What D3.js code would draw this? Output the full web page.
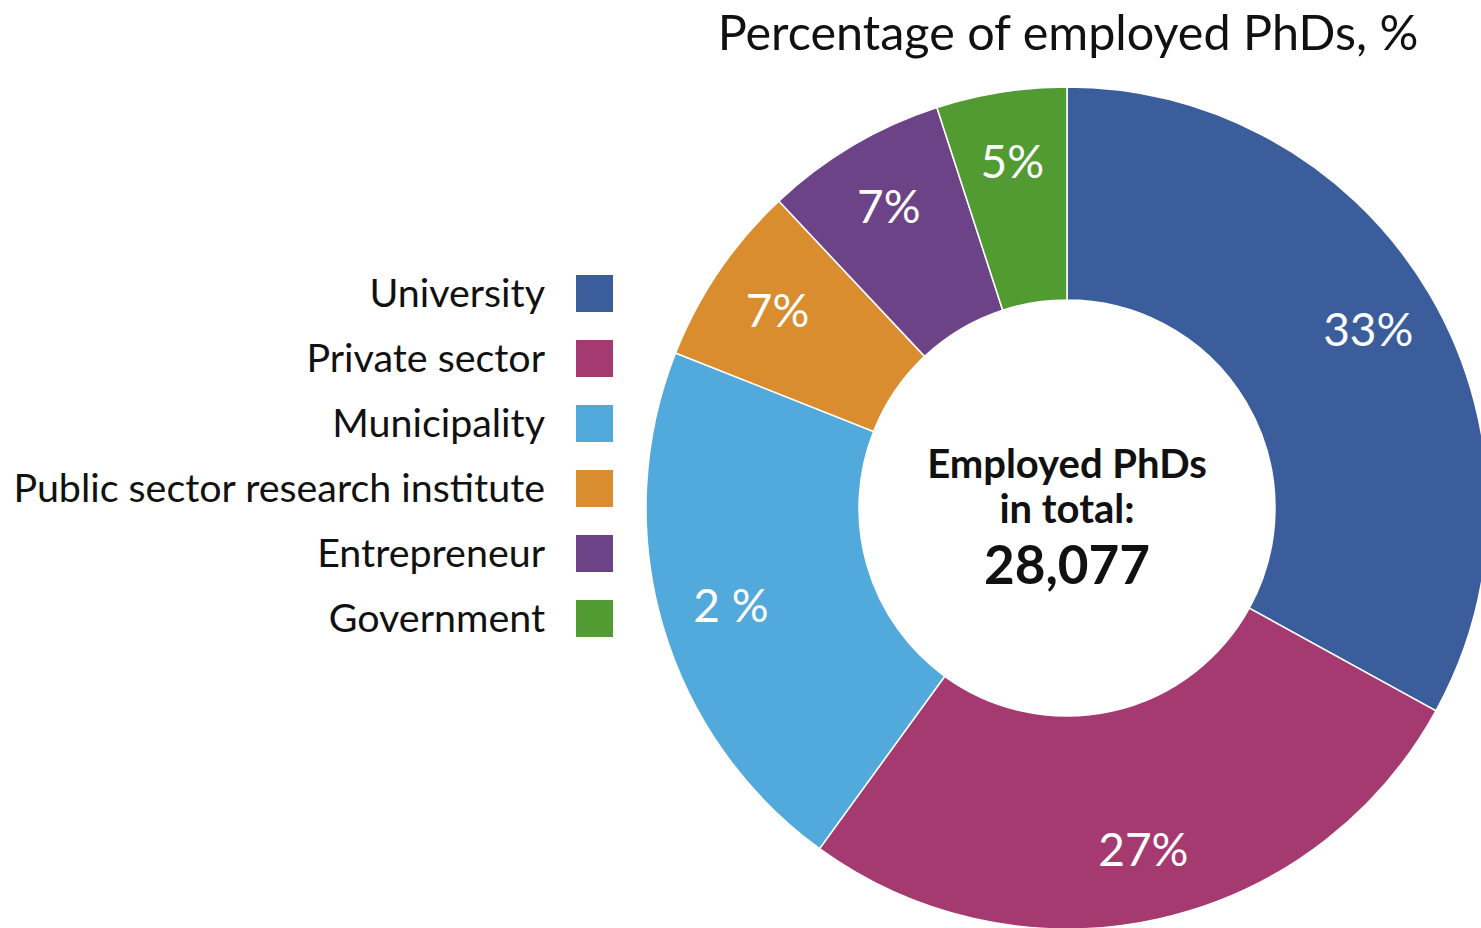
<!DOCTYPE html>
<html><head><meta charset="utf-8">
<script src="https://cdn.jsdelivr.net/npm/d3@7"></script>
<style>body{margin:0;background:#fff}svg{display:block}text{font-family:Lato,"Open Sans",sans-serif}</style>
</head><body><svg id="c" width="1481" height="928"></svg>
<script>
const categories = ["University","Private sector","Municipality","Public sector research institute","Entrepreneur","Government"];
const values = [33,27,21,7,7,5];
const sliceLabels = ["33%","27%","2 %","7%","7%","5%"];
const colors = ["#3B5D9C","#A53A71","#52AADC","#D98D2F","#6D4387","#529B33"];
const title = "Percentage of employed PhDs, %";
const centerLines = ["Employed PhDs","in total:","28,077"];

const svg = d3.select("#c");
const cx = 1067, cy = 508, rOuter = 421, rInner = 208;

svg.append("text").attr("x",1068).attr("y",50).attr("text-anchor","middle")
  .attr("font-size",48.5).attr("fill","#111").text(title);

const pie = d3.pie().sort(null).value(d=>d)(values);
const arc = d3.arc().innerRadius(rInner).outerRadius(rOuter);
const labelArc = d3.arc().innerRadius(350).outerRadius(350);
const g = svg.append("g").attr("transform",`translate(${cx},${cy})`);
g.selectAll("path").data(pie).join("path")
  .attr("d",arc).attr("fill",(d,i)=>colors[i]).attr("stroke","#fff").attr("stroke-width",1.5);
g.selectAll("text.lbl").data(pie).join("text").attr("class","lbl")
  .attr("transform",d=>`translate(${labelArc.centroid(d)})`)
  .attr("text-anchor","middle").attr("dy","0.35em")
  .attr("font-size",46).attr("fill","#fff").text((d,i)=>sliceLabels[i]);

g.append("text").attr("y",-30).attr("text-anchor","middle").attr("font-size",40).attr("font-weight","bold").attr("fill","#111").text(centerLines[0]);
g.append("text").attr("y",15).attr("text-anchor","middle").attr("font-size",40).attr("font-weight","bold").attr("fill","#111").text(centerLines[1]);
g.append("text").attr("y",76).attr("text-anchor","middle").attr("font-size",53).attr("font-weight","bold").attr("fill","#111").text(centerLines[2]);

const ly = d3.scalePoint().domain(categories).range([293,618]);
const leg = svg.append("g");
leg.selectAll("rect").data(categories).join("rect")
  .attr("x",576).attr("y",d=>ly(d)-18).attr("width",37).attr("height",37)
  .attr("fill",(d,i)=>colors[i]);
leg.selectAll("text").data(categories).join("text")
  .attr("x",545).attr("y",d=>ly(d)).attr("dy","0.35em").attr("text-anchor","end")
  .attr("font-size",39.4).attr("fill","#111").text(d=>d);
</script></body></html>
